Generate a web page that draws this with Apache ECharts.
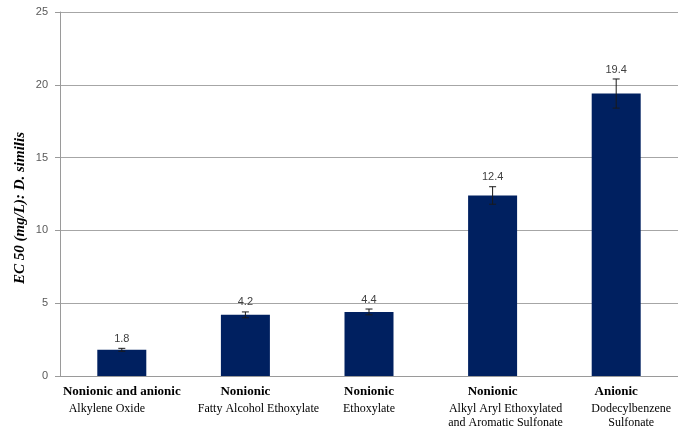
<!DOCTYPE html>
<html>
<head>
<meta charset="utf-8">
<script src="https://cdn.jsdelivr.net/npm/echarts@6/dist/echarts.min.js"></script>
<style>html,body{margin:0;padding:0;background:#fff;}#c{width:678px;height:430px;}</style>
</head>
<body>
<div id="c"></div>
<script>
// ---- data ----
const surfactantClass = ['Nonionic and anionic', 'Nonionic', 'Nonionic', 'Nonionic', 'Anionic'];
const surfactantName = ['Alkylene Oxide', 'Fatty Alcohol Ethoxylate', 'Ethoxylate', 'Alkyl Aryl Ethoxylated\nand Aromatic Sulfonate', 'Dodecylbenzene\nSulfonate'];
const ec50 = [1.8, 4.2, 4.4, 12.4, 19.4];
const ec50Err = [0.1, 0.2, 0.2, 0.6, 1.0];
const yTicks = [0, 5, 10, 15, 20, 25];

// ---- layout only (horizontal shift of the second label line, px) ----
const subShift = [-15, 13, 0, 13, 15];

const categories = surfactantClass.map((c, i) => i);

const rich = {
  b: { fontFamily: 'Liberation Serif', fontWeight: 'bold', fontSize: 13, color: '#000', lineHeight: 21 }
};
subShift.forEach((s, i) => {
  rich['r' + i] = {
    fontFamily: 'Liberation Serif', fontSize: 12, color: '#000', lineHeight: 14,
    padding: s >= 0 ? [0, 0, 0, 2 * s] : [0, -2 * s, 0, 0]
  };
});

const chart = echarts.init(document.getElementById('c'), null, { renderer: 'canvas' });
chart.setOption({
  animation: false,
  backgroundColor: '#fff',
  grid: { left: 60, right: 0, top: 12, bottom: 54, containLabel: false },
  xAxis: {
    type: 'category',
    data: categories,
    axisLine: { lineStyle: { color: '#9a9a9a', width: 1 } },
    axisTick: { show: false },
    axisLabel: {
      interval: 0,
      margin: 5,
      formatter: function (v, i) {
        const lines = surfactantName[i].split('\n').map(t => '{r' + i + '|' + t + '}');
        return '{b|' + surfactantClass[i] + '}\n' + lines.join('\n');
      },
      rich: rich
    }
  },
  yAxis: {
    type: 'value',
    min: yTicks[0],
    max: yTicks[yTicks.length - 1],
    interval: yTicks[1] - yTicks[0],
    name: 'EC 50 (mg/L): D. similis',
    nameLocation: 'middle',
    nameGap: 32,
    nameMoveOverlap: false,
    nameTextStyle: { fontFamily: 'Liberation Serif', fontWeight: 'bold', fontStyle: 'italic', fontSize: 15, color: '#000', padding: [0, 28, 0, 0] },
    axisLine: { show: true, lineStyle: { color: '#9a9a9a', width: 1 } },
    axisTick: { show: true, length: 5, lineStyle: { color: '#9a9a9a' } },
    axisLabel: { fontFamily: 'Liberation Sans', fontSize: 11, color: '#595959', margin: 12 },
    splitLine: { lineStyle: { color: '#a6a6a6', width: 1 } }
  },
  series: [
    {
      type: 'bar',
      data: ec50,
      barWidth: 49,
      itemStyle: { color: '#002060' }
    },
    {
      type: 'custom',
      data: ec50.map((v, i) => [i, v, ec50Err[i]]),
      z: 10,
      renderItem: function (params, api) {
        const i = api.value(0), v = api.value(1), e = api.value(2);
        const top = api.coord([i, v + e]);
        const bot = api.coord([i, v - e]);
        const cap = 3.5;
        const ls = { stroke: '#1a1a1a', lineWidth: 1 };
        return {
          type: 'group',
          children: [
            { type: 'line', shape: { x1: top[0], y1: top[1], x2: bot[0], y2: bot[1] }, style: ls },
            { type: 'line', shape: { x1: top[0] - cap, y1: top[1], x2: top[0] + cap, y2: top[1] }, style: ls },
            { type: 'line', shape: { x1: bot[0] - cap, y1: bot[1], x2: bot[0] + cap, y2: bot[1] }, style: ls },
            { type: 'text', x: top[0], y: top[1] - 4,
              style: { text: String(v), fontFamily: 'Liberation Sans', fontSize: 11, fill: '#404040', align: 'center', verticalAlign: 'bottom' } }
          ]
        };
      }
    }
  ]
});
</script>
</body>
</html>
